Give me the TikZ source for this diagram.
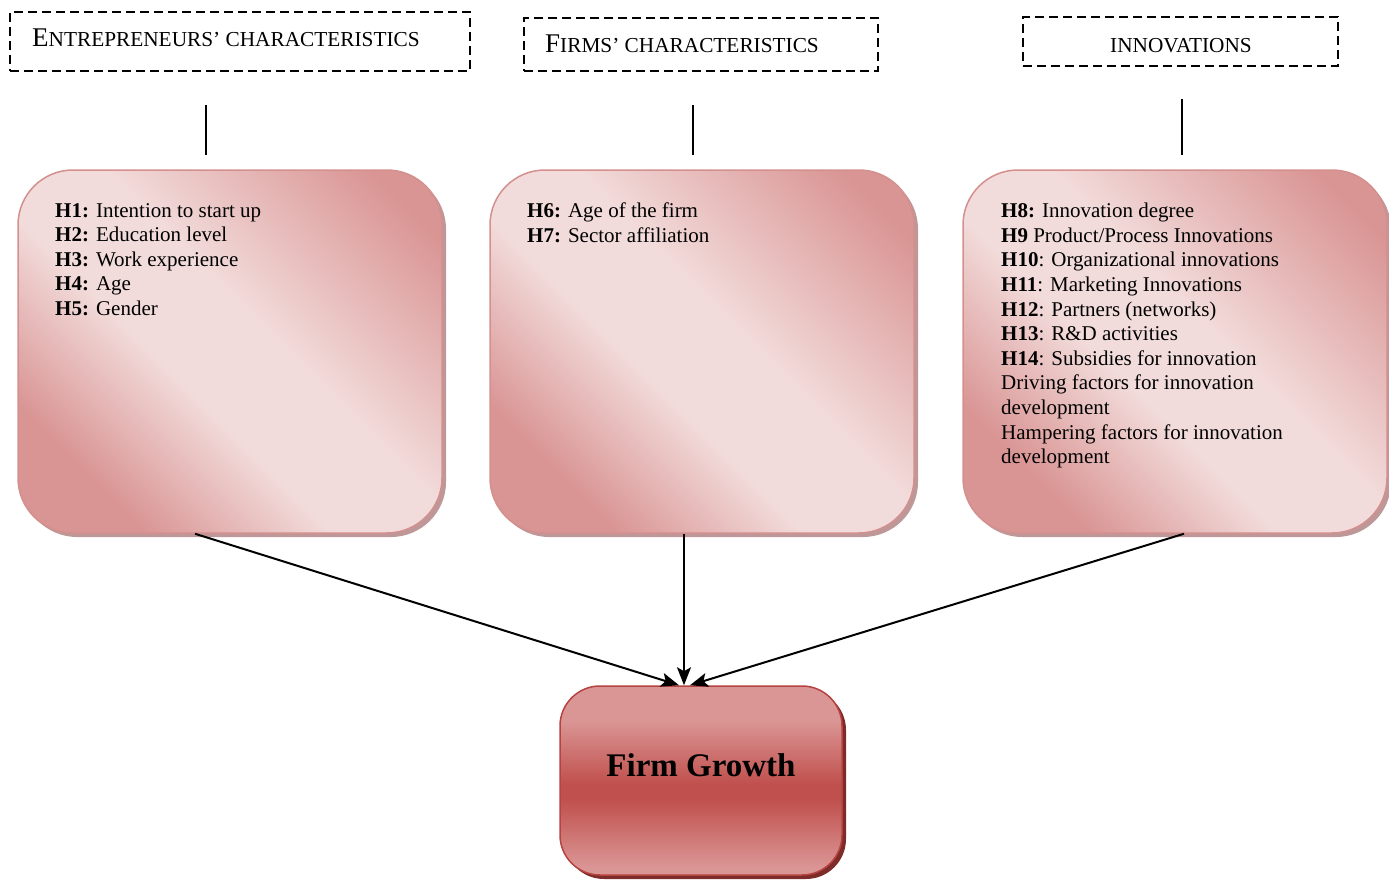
\documentclass[tikz,border=0pt]{standalone}
\usepackage{fontspec}
\setmainfont{Liberation Serif}
\usetikzlibrary{shadows,arrows.meta}
\definecolor{pinkdark}{HTML}{D99594}
\definecolor{pinklight}{HTML}{F2DCDB}
\definecolor{pinkborder}{HTML}{D3908F}
\definecolor{pinkshadow}{HTML}{BE9898}
\definecolor{reddark}{HTML}{C0504D}
\definecolor{redlight}{HTML}{DA9695}
\definecolor{redborder}{HTML}{B5433F}
\definecolor{redshadow}{HTML}{7E2C2A}
\pgfdeclareverticalshading{pinkdiag}{100bp}{color(0bp)=(pinkdark); color(26bp)=(pinkdark); color(43bp)=(pinklight); color(55bp)=(pinklight); color(79bp)=(pinkdark); color(100bp)=(pinkdark)}
\pgfdeclareverticalshading{redband}{100bp}{color(0bp)=(redlight); color(27bp)=(redlight); color(45bp)=(reddark); color(49bp)=(reddark); color(66bp)=(redlight); color(100bp)=(redlight)}
\tikzset{
  titlebox/.style={draw=black, line width=2pt, dash pattern=on 9pt off 5pt, inner sep=0pt},
  titletext/.style={inner sep=0pt, font=\fontsize{21.3}{24}\selectfont},
  hypbox/.style={rectangle, rounded corners=55pt, minimum width=424pt, minimum height=363pt,
    draw=pinkborder, line width=1.5pt,
    shading=pinkdiag, shading angle=-45,
    drop shadow={shadow xshift=4pt, shadow yshift=-4pt, fill=pinkshadow, opacity=1}},
  hyptext/.style={anchor=north west, inner sep=0pt, align=left, font=\fontsize{21}{24.6}\selectfont},
  growthbox/.style={rectangle, rounded corners=40pt, minimum width=282pt, minimum height=189pt,
    draw=redborder, line width=1.5pt,
    shading=redband,
    drop shadow={shadow xshift=4pt, shadow yshift=-4pt, fill=redshadow, opacity=1}},
  connector/.style={line width=2pt, -{Stealth[length=18pt, width=14pt, inset=4pt]}},
  stem/.style={line width=1.3pt}
}
\newcommand{\initcap}[1]{{\fontsize{27}{27}\selectfont #1}}
\begin{document}
\begin{tikzpicture}[x=1pt, y=-1pt]
\useasboundingbox (0,0) rectangle (1389,880);

% dashed title boxes
\node[titlebox, minimum width=460pt, minimum height=59pt] (d1) at (240,41.5) {};
\node[titlebox, minimum width=354pt, minimum height=53pt] (d2) at (701,44.5) {};
\node[titlebox, minimum width=315pt, minimum height=49pt] (d3) at (1180.5,41.5) {};
\node[titletext, anchor=base west] (t1) at (32,47) {\initcap{E}NTREPRENEURS’ CHARACTERISTICS};
\node[titletext, anchor=base west] (t2) at (545,53) {\initcap{F}IRMS’ CHARACTERISTICS};
\node[titletext, anchor=base] (t3) at (1181,53) {INNOVATIONS};

% stems
\coordinate (s1a) at (206,105); \coordinate (s1b) at (206,155);
\coordinate (s2a) at (693,105); \coordinate (s2b) at (693,155);
\coordinate (s3a) at (1182,99); \coordinate (s3b) at (1182,155);
\draw[stem] (s1a) -- (s1b);
\draw[stem] (s2a) -- (s2b);
\draw[stem] (s3a) -- (s3b);

% hypothesis boxes
\node[hypbox] (b1) at (230,351.5) {};
\node[hypbox] (b2) at (702,351.5) {};
\node[hypbox] (b3) at (1175,351.5) {};

\node[hyptext] (h1) at (55,203) {\textbf{H1:} Intention to start up\\
\textbf{H2:} Education level\\
\textbf{H3:} Work experience\\
\textbf{H4:} Age\\
\textbf{H5:} Gender};

\node[hyptext] (h2) at (527,203) {\textbf{H6:} Age of the firm\\
\textbf{H7:} Sector affiliation};

\node[hyptext] (h3) at (1001,203) {\textbf{H8:} Innovation degree\\
\textbf{H9} Product/Process Innovations\\
\textbf{H10}: Organizational innovations\\
\textbf{H11}: Marketing Innovations\\
\textbf{H12}: Partners (networks)\\
\textbf{H13}: R\&D activities\\
\textbf{H14}: Subsidies for innovation\\
Driving factors for innovation\\
development\\
Hampering factors for innovation\\
development};

% firm growth
\node[growthbox] (fg) at (701,780.5) {};
\node[inner sep=0pt, font=\fontsize{33}{33}\selectfont\bfseries] (fgt) at (701,765) {Firm Growth};

% connectors
\draw[connector] ([xshift=-35pt]b1.south) -- ([xshift=-22pt]fg.north);
\draw[connector] ([xshift=-18pt]b2.south) -- ([xshift=-17pt]fg.north);
\draw[connector] ([xshift=9pt]b3.south) -- ([xshift=-11pt]fg.north);
\end{tikzpicture}
\end{document}
